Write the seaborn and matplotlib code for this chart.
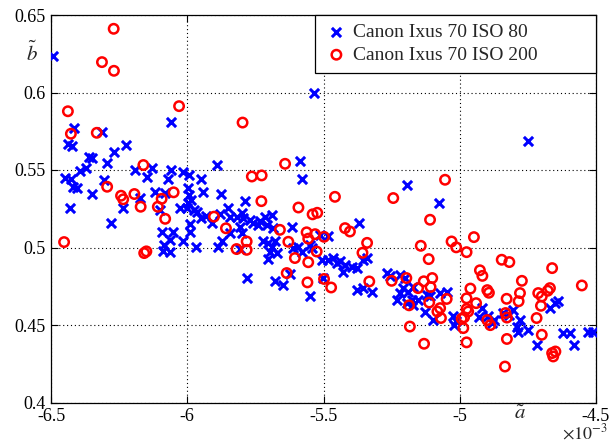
import pandas as pd
import seaborn as sns
import matplotlib.pyplot as plt

# values (a-tilde in units of 1e-3)
series = ["Canon Ixus 70 ISO 80", "Canon Ixus 70 ISO 200"]

iso80_a = [-6.493, -6.416, -6.313, -6.437, -6.423, -6.061, -6.224, -6.267, -6.362, -6.348,
           -6.293, -6.373, -6.392, -6.447, -6.426, -6.307, -6.421, -6.404, -6.348, -6.190,
           -6.146, -6.129, -6.061, -6.071, -6.017, -5.994, -5.950, -5.890, -6.118, -6.083,
           -6.172, -5.996, -5.994, -5.987, -5.996, -5.942, -5.876, -6.432, -6.235, -6.025,
           -6.001, -5.977, -5.966, -5.931, -5.948, -5.911, -5.878, -5.849, -5.843, -5.799,
           -5.788, -5.819, -5.806, -5.990, -5.990, -6.093, -6.054, -6.063, -6.084, -6.016,
           -6.090, -6.062, -5.967, -5.886, -5.874, -5.843, -5.782, -5.806, -6.279, -6.101,
           -5.586, -5.578, -5.534, -5.195, -5.077, -4.748,
           -5.794, -5.770, -5.758, -5.739, -5.733, -5.715, -5.690, -5.708, -5.684, -5.617,
           -5.800, -5.721, -5.703, -5.690, -5.678, -5.696, -5.672, -5.703, -5.611, -5.592,
           -5.580, -5.550, -5.543, -5.513, -5.482, -5.507, -5.482, -5.464, -5.452, -5.678,
           -5.648, -5.623, -5.501, -5.550,
           -5.369, -5.439, -5.421, -5.427, -5.397, -5.378, -5.354, -5.341, -5.378, -5.323,
           -5.354, -5.268, -5.256, -5.219, -5.207, -5.219, -5.189, -5.170, -5.231, -5.176,
           -5.152, -5.201, -5.195, -5.170, -5.128, -5.097, -5.109, -5.121, -5.072, -5.048,
           -5.024, -5.014, -5.021, -4.919, -4.928, -4.895, -4.874, -4.883, -4.840, -4.818,
           -4.803, -4.791, -4.785, -4.779, -4.748, -4.718, -4.669, -4.650, -4.638, -4.620,
           -4.595, -4.581, -4.528, -4.510]
iso80_b = [0.6235, 0.5772, 0.5743, 0.5669, 0.5656, 0.5811, 0.5659, 0.5617, 0.5585, 0.5575,
           0.5545, 0.5516, 0.5493, 0.5450, 0.5443, 0.5435, 0.5390, 0.5382, 0.5345, 0.5497,
           0.5455, 0.5512, 0.5503, 0.5443, 0.5487, 0.5465, 0.5443, 0.5532, 0.5356, 0.5351,
           0.5321, 0.5383, 0.5340, 0.5308, 0.5286, 0.5358, 0.5348, 0.5253, 0.5252, 0.5253,
           0.5256, 0.5240, 0.5227, 0.5201, 0.5188, 0.5161, 0.5217, 0.5254, 0.5200, 0.5224,
           0.5297, 0.5200, 0.5135, 0.5150, 0.5103, 0.5101, 0.5099, 0.5048, 0.5017, 0.5043,
           0.4979, 0.4972, 0.5006, 0.5006, 0.5043, 0.5093, 0.4803, 0.4990, 0.5157, 0.5239,
           0.5561, 0.5441, 0.6000, 0.5405, 0.5288, 0.5688,
           0.5190, 0.5179, 0.5157, 0.5146, 0.5168, 0.5200, 0.5211, 0.5146, 0.5125, 0.5135,
           0.5093, 0.5039, 0.5028, 0.5006, 0.5039, 0.4974, 0.4964, 0.4925, 0.4996, 0.5006,
           0.4974, 0.5017, 0.4996, 0.5082, 0.5071, 0.4921, 0.4921, 0.4932, 0.4903, 0.4781,
           0.4759, 0.4830, 0.4803, 0.4684,
           0.5157, 0.4910, 0.4888, 0.4845, 0.4877, 0.4867, 0.4921, 0.4932, 0.4727, 0.4716,
           0.4738, 0.4835, 0.4813, 0.4824, 0.4738, 0.4706, 0.4716, 0.4748, 0.4663, 0.4663,
           0.4663, 0.4803, 0.4641, 0.4630, 0.4587, 0.4530, 0.4684, 0.4695, 0.4704, 0.4710,
           0.4555, 0.4523, 0.4498, 0.4609, 0.4551, 0.4559, 0.4534, 0.4512, 0.4577, 0.4566,
           0.4598, 0.4490, 0.4458, 0.4534, 0.4469, 0.4372, 0.4609, 0.4641, 0.4652, 0.4448,
           0.4448, 0.4372, 0.4458, 0.4458]

iso200_a = [-6.270, -6.313, -6.269, -6.438, -6.427, -6.332, -6.030, -6.161, -6.294, -6.243,
            -6.235, -6.194, -6.171, -6.094, -6.108, -6.050, -5.902, -6.081, -6.452, -6.158,
            -6.150, -5.858, -5.819, -5.782, -5.782, -5.797, -5.641, -5.763, -5.727, -5.728,
            -5.592, -5.458, -5.244, -5.540, -5.523, -5.660, -5.629, -5.562, -5.556, -5.531,
            -5.498, -5.525, -5.605, -5.556, -5.635, -5.559, -5.498, -5.472, -5.421, -5.403,
            -5.340, -5.357, -5.332, -5.250, -5.196, -5.186, -5.183, -5.109, -5.143, -5.114,
            -5.153, -5.132, -5.101, -5.107, -5.112, -5.082, -5.072, -5.069, -5.048, -5.131,
            -5.054, -5.030, -5.013, -4.948, -4.975, -4.926, -4.917, -4.961, -4.975, -4.940,
            -4.975, -4.969, -4.984, -4.993, -4.987, -4.975, -4.899, -4.893, -4.828, -4.846,
            -4.818, -4.772, -4.779, -4.784, -4.899, -4.888, -4.832, -4.827, -4.827, -4.834,
            -4.661, -4.712, -4.699, -4.677, -4.669, -4.702, -4.718, -4.699, -4.661, -4.649,
            -4.657, -4.552]
iso200_b = [0.6411, 0.6196, 0.6140, 0.5879, 0.5734, 0.5740, 0.5912, 0.5532, 0.5392, 0.5334,
            0.5311, 0.5345, 0.5263, 0.5314, 0.5263, 0.5356, 0.5199, 0.5185, 0.5035, 0.4964,
            0.4975, 0.5124, 0.4990, 0.5039, 0.4985, 0.5806, 0.5540, 0.5458, 0.5465, 0.5299,
            0.5258, 0.5327, 0.5319, 0.5214, 0.5224, 0.5114, 0.5037, 0.5098, 0.5057, 0.5086,
            0.5069, 0.4974, 0.4932, 0.4905, 0.4835, 0.4775, 0.4797, 0.4742, 0.5125, 0.5103,
            0.5030, 0.4966, 0.4781, 0.4785, 0.4803, 0.4627, 0.4490, 0.5179, 0.5011, 0.4925,
            0.4738, 0.4782, 0.4803, 0.4745, 0.4645, 0.4587, 0.4609, 0.4545, 0.4668, 0.4379,
            0.5437, 0.5039, 0.5001, 0.5067, 0.4970, 0.4853, 0.4817, 0.4735, 0.4672, 0.4641,
            0.4603, 0.4587, 0.4550, 0.4540, 0.4480, 0.4388, 0.4725, 0.4708, 0.4669, 0.4921,
            0.4906, 0.4785, 0.4706, 0.4653, 0.4532, 0.4499, 0.4577, 0.4548, 0.4410, 0.4232,
            0.4867, 0.4706, 0.4684, 0.4721, 0.4738, 0.4624, 0.4545, 0.4437, 0.4319, 0.4329,
            0.4297, 0.4755]

x_ticks = [-6.5, -6, -5.5, -5, -4.5]
x_tick_labels = ["-6.5", "-6", "-5.5", "-5", "-4.5"]
y_ticks = [0.4, 0.45, 0.5, 0.55, 0.6, 0.65]
y_tick_labels = ["0.4", "0.45", "0.5", "0.55", "0.6", "0.65"]

sns.set_style("white")
plt.rcParams["font.family"] = ["Liberation Serif", "DejaVu Serif"]
plt.rcParams["mathtext.fontset"] = "stix"

fig = plt.figure(figsize=(6.09, 4.43), dpi=100)
ax = fig.add_axes([51 / 609, 1 - 402.5 / 443, 545 / 609, 387.5 / 443])

df80 = pd.DataFrame({"a": iso80_a, "b": iso80_b})
df200 = pd.DataFrame({"a": iso200_a, "b": iso200_b})

sns.scatterplot(data=df80, x="a", y="b", marker="x", color="blue", s=44,
                linewidth=2.2, label=series[0], ax=ax, zorder=3)
sns.scatterplot(data=df200, x="a", y="b", marker="o", facecolor="none",
                edgecolor="red", s=46, linewidth=1.8, label=series[1], ax=ax, zorder=3)

ax.set_xlim(-6.5, -4.5)
ax.set_ylim(0.4, 0.65)
ax.set_xticks(x_ticks)
ax.set_xticklabels(x_tick_labels)
ax.set_yticks(y_ticks)
ax.set_yticklabels(y_tick_labels)
ax.set_xlabel("")
ax.set_ylabel("")
ax.tick_params(direction="in", length=5, width=0.8, labelsize=13, pad=4,
               top=True, right=True, bottom=True, left=True, colors="black")
ax.grid(True, color="black", linestyle=(0, (1, 2.5)), linewidth=0.8)
for sp in ax.spines.values():
    sp.set_color("black")
    sp.set_linewidth(0.9)

# axis names placed like MATLAB does
ax.text(-4.78, -0.03, r"$\tilde{a}$", transform=ax.get_xaxis_transform(),
        ha="center", va="center", fontsize=15)
ax.text(-0.035, 0.625, r"$\tilde{b}$", transform=ax.get_yaxis_transform(),
        ha="center", va="center", fontsize=15)
fig.text(0.998, 0.0, r"$\times10^{-3}$", ha="right", va="bottom", fontsize=13)

# legend box spans from ~px 315 to the right edge of the axes
leg = ax.legend(bbox_to_anchor=(0.4844, 0.0, 0.5156, 1.0), loc="upper right",
                mode="expand", borderaxespad=0, fancybox=False, framealpha=1,
                edgecolor="black", fontsize=14, handlelength=1.3, handletextpad=0.2,
                borderpad=0.45, labelspacing=0.25)
leg.get_frame().set_linewidth(0.9)

fig.savefig("out.png", dpi=100)
